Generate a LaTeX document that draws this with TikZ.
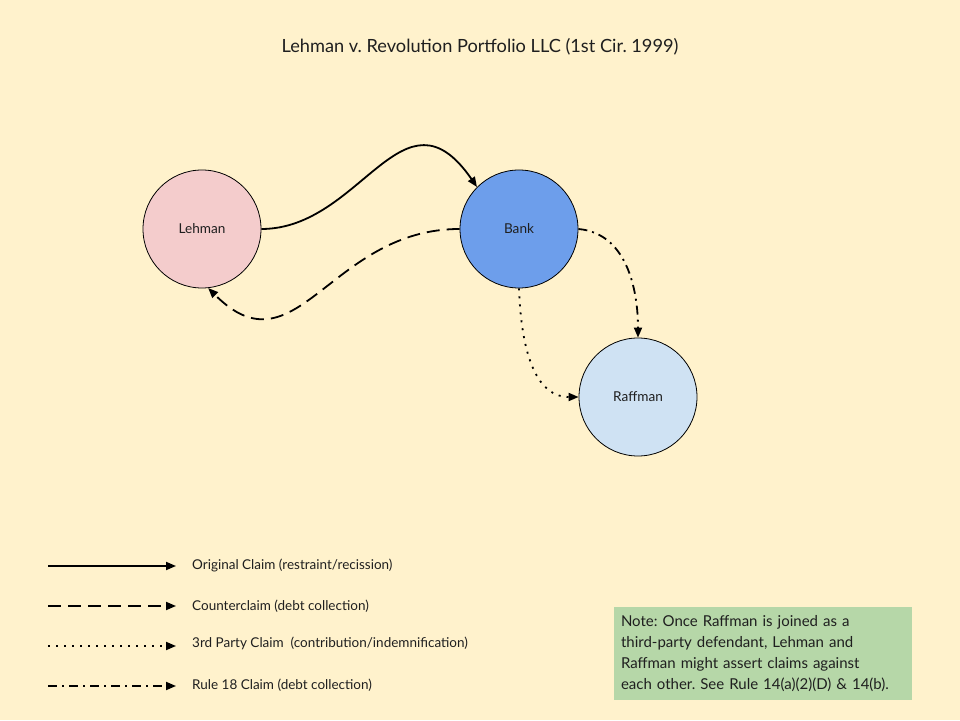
\documentclass[tikz,border=0pt]{standalone}
\usepackage{fontspec}
\setmainfont{Lato}
\usetikzlibrary{arrows.meta,positioning}
\definecolor{paper}{HTML}{FFF2CC}
\definecolor{lehmanfill}{HTML}{F4CCCC}
\definecolor{bankfill}{HTML}{6D9EEB}
\definecolor{raffmanfill}{HTML}{CFE2F3}
\definecolor{notefill}{HTML}{B6D7A8}
\definecolor{ink}{HTML}{1F1F1F}
\frenchspacing

\begin{document}
\begin{tikzpicture}[x=1pt,y=1pt,>={Triangle[length=10pt,width=8pt]},
  party/.style={circle,draw=black,line width=0.8pt,minimum size=118pt,inner sep=0pt,
    text=ink,font=\fontsize{13.6}{16}\selectfont},
  claim/.style={->,line width=1.8pt},
  counter/.style={claim,dash pattern=on 13pt off 7pt},
  thirdparty/.style={claim,dash pattern=on 2pt off 6pt},
  ruleclaim/.style={claim,dash pattern=on 9pt off 5pt on 2pt off 5pt},
  key/.style={anchor=west,inner sep=0pt,text=ink,font=\fontsize{13.5}{16}\selectfont}]
  \fill[paper] (0,0) rectangle (960,720);
  \useasboundingbox (0,0) rectangle (960,720);

  \node[text=ink,font=\fontsize{18.2}{22}\selectfont] (title) at (480,673)
    {Lehman v. Revolution Portfolio LLC (1st Cir. 1999)};

  % parties
  \node[party,fill=lehmanfill] (lehman) at (202,491) {Lehman};
  \node[party,fill=bankfill] (bank) at (519,491) {Bank};
  \node[party,fill=raffmanfill] (raffman) at (638,323) {Raffman};

  % claims
  \draw[claim] (lehman.east) .. controls +(100,0) and +(-74,107) .. (bank.135);
  \draw[counter] (bank.west) .. controls +(-130,0) and +(88,-88) .. (lehman.-84);
  \draw[thirdparty] (bank.south) to[out=-88,in=180] (raffman.west);
  \draw[ruleclaim] (bank.east) to[out=-5,in=90] (raffman.north);

  % legend
  \coordinate (origL) at (48,154);   \coordinate (origR) at (176,154);
  \coordinate (counterL) at (48,114); \coordinate (counterR) at (176,114);
  \coordinate (thirdL) at (48,74);   \coordinate (thirdR) at (176,74);
  \coordinate (ruleL) at (48,34);    \coordinate (ruleR) at (176,34);
  \draw[claim] (origL) -- (origR);
  \draw[counter] (counterL) -- (counterR);
  \draw[thirdparty] (thirdL) -- (thirdR);
  \draw[ruleclaim] (ruleL) -- (ruleR);
  \node[key] (origkey) at (192,155) {Original Claim (restraint/recission)};
  \node[key] (counterkey) at (192,114) {Counterclaim (debt collection)};
  \node[key] (thirdkey) at (192,77) {3rd Party Claim\ \ (contribution/indemnification)};
  \node[key] (rulekey) at (192,35) {Rule 18 Claim (debt collection)};

  % note
  \node[fill=notefill,minimum width=298pt,minimum height=93pt,text width=284pt,
    align=left,text=ink,font=\fontsize{15}{21}\selectfont] (note) at (763,66.5)
    {Note: Once Raffman is joined as a\\third-party defendant, Lehman and\\
     Raffman might assert claims against\\each other. See Rule 14(a)(2)(D) \& 14(b).};
\end{tikzpicture}
\end{document}
